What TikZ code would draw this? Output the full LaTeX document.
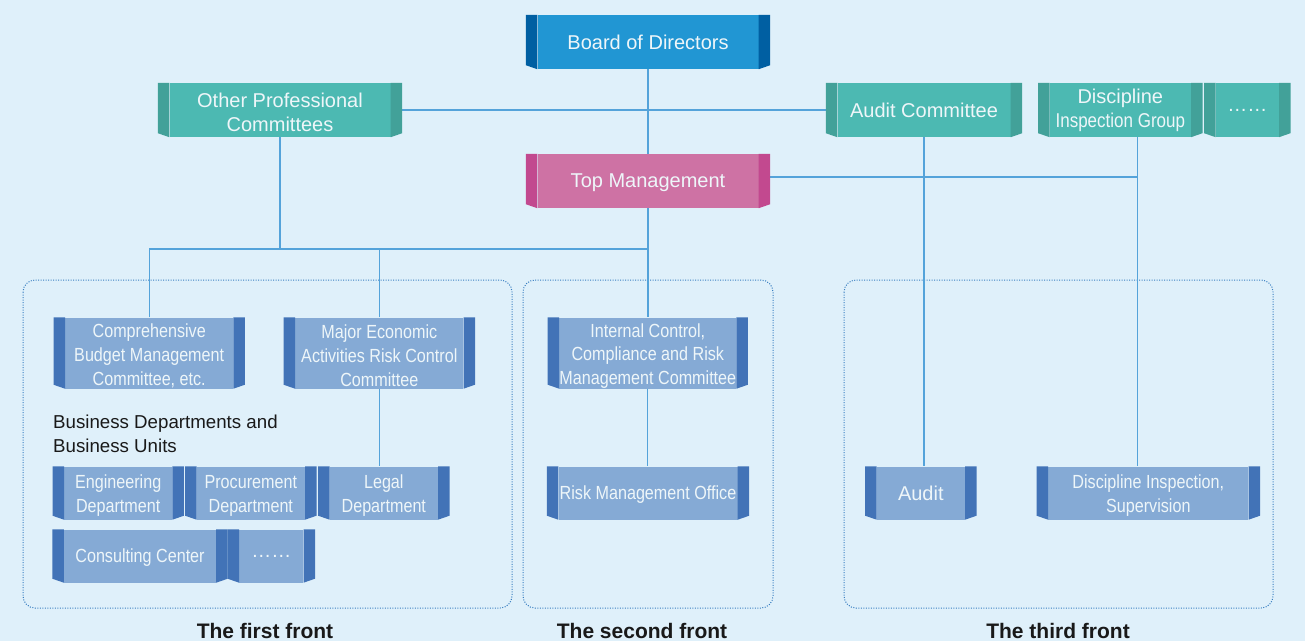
\documentclass[tikz,border=0pt]{standalone}
\usepackage{fontspec}
\setmainfont{Liberation Sans}
\newfontfamily\narrowsans{Liberation Sans}[FakeStretch=0.85]
\newcommand\lift{\rule{0pt}{19.5pt}}

\definecolor{bgblue}{RGB}{223,240,250}
\definecolor{boardface}{RGB}{33,150,211}
\definecolor{boardside}{RGB}{0,95,162}
\definecolor{mgmtface}{RGB}{206,114,164}
\definecolor{mgmtside}{RGB}{194,73,143}
\definecolor{tealface}{RGB}{76,185,178}
\definecolor{tealside}{RGB}{66,161,153}
\definecolor{unitface}{RGB}{133,170,213}
\definecolor{unitside}{RGB}{66,115,183}
\definecolor{wireblue}{RGB}{84,163,218}
\definecolor{frameline}{RGB}{55,125,192}
\definecolor{ink}{RGB}{238,246,249}

\begin{document}
\begin{tikzpicture}[x=1pt,y=-1pt]
    \tikzstyle{panel}=[rectangle, inner sep=0pt, align=center, text=ink, minimum height=54pt, font=\fontsize{20}{24}\selectfont]
    \tikzstyle{unit}=[panel, fill=unitface, font=\narrowsans\fontsize{19}{24}\selectfont]
    \tikzstyle{flat}=[text depth=0pt]
    \tikzstyle{link}=[draw=wireblue, line width=1.3pt]
    \tikzstyle{front}=[draw=frameline, line width=1pt, dash pattern=on 1pt off 1.5pt, rounded corners=12pt]
    \tikzstyle{caption}=[inner sep=0pt, font=\fontsize{21}{25}\selectfont\bfseries, text=black!90]

    \fill[bgblue] (0,0) rectangle (1305,641);

    % the three fronts
    \draw[front] (23,280) rectangle (512,608);
    \draw[front] (523,280) rectangle (773,608);
    \draw[front] (844,280) rectangle (1273,608);
    \node[caption] (first) at (265,631) {The first front};
    \node[caption] (second) at (642,631) {The second front};
    \node[caption] (third) at (1058,631) {The third front};

    % governance
    \node[panel, fill=boardface, minimum width=221pt] (board) at (648,42) {Board of Directors};
    \node[panel, flat, fill=mgmtface, minimum width=221pt] (mgmt) at (648,181) {Top Management};
    \node[panel, fill=tealface, minimum width=221pt] (other) at (280,110) {\lift Other Professional\\Committees};
    \node[panel, fill=tealface, minimum width=173pt] (auditcom) at (924,110) {Audit Committee};
    \node[panel, fill=tealface, minimum width=141pt] (discgroup) at (1120.3,110) {Discipline\\{\narrowsans Inspection Group}};
    \node[panel, fill=tealface, minimum width=63pt] (moretop) at (1247.3,110) {……};

    % first front
    \node[unit, minimum width=168pt, minimum height=71pt] (budget) at (149.2,353) {\lift Comprehensive\\Budget Management\\Committee, etc.};
    \node[unit, minimum width=168pt, minimum height=71pt] (major) at (379.3,353) {\lift Major Economic\\Activities Risk Control\\Committee};
    \node[anchor=west, align=left, inner sep=0pt, text=black!90, font=\fontsize{18.7}{24}\selectfont] (bizlabel) at (53,433.5) {Business Departments and\\Business Units};
    \node[unit, minimum width=108pt, minimum height=53pt] (eng) at (118.2,493) {\lift Engineering\\Department};
    \node[unit, minimum width=108pt, minimum height=53pt] (proc) at (250.8,493) {\lift Procurement\\Department};
    \node[unit, minimum width=108pt, minimum height=53pt] (legal) at (383.8,493) {\lift Legal\\Department};
    \node[unit, flat, minimum width=152pt, minimum height=53pt] (consult) at (140,556) {Consulting Center};
    \node[unit, minimum width=64pt, minimum height=53pt, font=\fontsize{20}{24}\selectfont] (morelow) at (271.3,556) {……};

    % second front
    \node[unit, minimum width=169pt, minimum height=71pt, font=\narrowsans\fontsize{19}{23.5}\selectfont] (internal) at (647.8,353) {\lift Internal Control,\\Compliance and Risk\\Management Committee};
    \node[unit, flat, minimum width=179pt, minimum height=53pt] (riskoffice) at (648,493) {Risk Management Office};

    % third front
    \node[unit, minimum width=88pt, minimum height=53pt, font=\fontsize{20}{24}\selectfont] (audit) at (920.8,493) {Audit};
    \node[unit, minimum width=200pt, minimum height=53pt] (discsup) at (1148.3,493) {\lift Discipline Inspection,\\Supervision};

    % connectors
    \coordinate (hub) at (648,249);
    \coordinate (drop) at ([xshift=17pt]discgroup.south);
    \draw[link] (board) -- (mgmt);
    \draw[link] (mgmt.south) -- (mgmt.south |- internal.north);
    \draw[link] (internal.south) -- (internal.south |- riskoffice.north);
    \draw[link] (other.south) -- (other.south |- hub);
    \draw[link] (budget.north) |- (hub);
    \draw[link] (major.north) -- (major.north |- hub);
    \draw[link] (major.south) -- (major.south |- legal.north);
    \draw[link] (other.east) -- (auditcom.west);
    \draw[link] (auditcom.south) -- (auditcom.south |- audit.north);
    \draw[link] ([yshift=4pt]mgmt.east) -| (drop);
    \draw[link] (drop) -- (drop |- discsup.north);

    % side tabs
    \foreach \n/\c in {board/boardside, mgmt/mgmtside, other/tealside, auditcom/tealside, discgroup/tealside, moretop/tealside,
        budget/unitside, major/unitside, eng/unitside, proc/unitside, legal/unitside, consult/unitside, morelow/unitside,
        internal/unitside, riskoffice/unitside, audit/unitside, discsup/unitside} {
        \fill[\c] (\n.north west) -- ++(-11.5,0) -- ([shift={(-11.5pt,4pt)}]\n.south west) -- (\n.south west) -- cycle;
        \fill[\c] (\n.north east) -- ++(11.5,0) -- ([shift={(11.5pt,4pt)}]\n.south east) -- (\n.south east) -- cycle;
    }
\end{tikzpicture}
\end{document}
